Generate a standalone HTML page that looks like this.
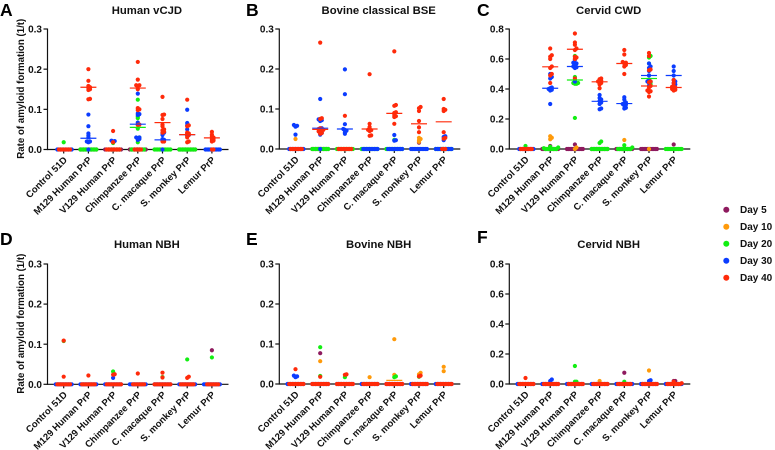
<!DOCTYPE html>
<html lang="en">
<head>
<meta charset="utf-8">
<title>Rate of amyloid formation</title>
<style>
html,body{margin:0;padding:0;background:#fff;width:775px;height:450px;overflow:hidden}
svg{display:block;font-family:"Liberation Sans",Arial,sans-serif;font-weight:bold;fill:#111}
</style>
</head>
<body>
<svg id="figure" width="775" height="450" viewBox="0 0 775 450" xmlns="http://www.w3.org/2000/svg"></svg>
<script>
const categories = ["Control 51D","M129 Human PrP","V129 Human PrP","Chimpanzee PrP","C. macaque PrP","S. monkey PrP","Lemur PrP"];
const dayLabels = ["Day 5","Day 10","Day 20","Day 30","Day 40"];
const dayColors = ["#8e1a5e","#ff9a0a","#12ee12","#0b3cff","#ff2a0a"];
const ticksLow = [0,0.1,0.2,0.3];
const ticksHigh = [0,0.2,0.4,0.6,0.8];
const none = [[],[],[],[],[],[],[]];
const noZeros = [0,0,0,0,0,0,0];
const noMean = [null,null,null,null,null,null,null];

/* Panel A: Human vCJD */
const A_day5 = none;
const A_day10 = none;
const A_day20 = [[.018],[],[.016],[.124,.082,.078,.052,.03,.028,.018],[],[],[]];
const A_day30 = [[],[.087,.058,.04,.035,.03,.02,.018,.02],[.022,.021,.02],[.139,.09,.088,.086,.067,.063,.03,.03,.028,.026,.024],[.042,.04,.036,.026,.024,.022],[.099,.066,.06,.05,.04,.036,.035],[]];
const A_day40 = [[],[.2,.171,.158,.155,.153,.15,.148,.126,.125],[.046,.018],[.218,.174,.16,.16,.158,.15,.103,.1,.098,.062,.061],[.131,.087,.086,.076,.062,.058,.05,.048,.044,.042,.02,.02],[.124,.06,.058,.042,.04,.038,.036,.034,.03,.02,.018],[.044,.037,.033,.03,.028,.026,.024,.022,.02]];
const A_zeros_day5 = [0,11,11,11,0,11,0];
const A_zeros_day10 = [0,0,0,1,0,0,0];
const A_zeros_day20 = [0,11,8,9,11,11,0];
const A_zeros_day30 = [10,1,1,1,1,0,10];
const A_zeros_day40 = [8,0,9,5,0,0,2];
const A_mean_day20 = [null,null,null,.055,null,null,null];
const A_mean_day30 = [null,.028,null,.063,.024,.037,null];
const A_mean_day40 = [null,.155,null,.153,.067,.037,.029];

/* Panel B: Bovine classical BSE */
const B_day5 = [[],[],[],[],[],[.016],[]];
const B_day10 = [[.025],[],[],[],[],[.028,.025,.022,.018],[]];
const B_day20 = [[],[.075],[],[],[.023],[],[]];
const B_day30 = [[.06,.058,.056,.036],[.125,.074,.072,.07,.052,.05,.045,.04,.036],[.199,.137,.062,.05,.048,.046,.042,.038],[],[.035,.022,.021],[],[.032,.03,.022]];
const B_day40 = [[],[.266,.077,.075,.052,.05,.05,.048,.047,.045,.044,.042,.04,.038],[.083],[.187,.063,.055,.05,.048,.047,.045,.034,.033],[.244,.11,.108,.092,.09,.085,.082,.08,.063],[.105,.102,.095,.07,.054,.042],[.125,.1,.098,.095,.042,.028,.026]];
const B_zeros_day5 = [0,11,0,0,0,0,0];
const B_zeros_day10 = noZeros;
const B_zeros_day20 = [0,11,11,11,11,0,11];
const B_zeros_day30 = [10,1,0,10,10,11,11];
const B_zeros_day40 = [8,0,9,0,0,0,3];
const B_mean_day30 = [null,.052,.05,null,null,null,null];
const B_mean_day40 = [null,.049,null,.05,.089,.063,.068];

/* Panel C: Cervid CWD */
const C_day5 = [[],[.02],[.03],[],[],[],[.03]];
const C_day10 = [[],[.085,.075,.065,.01],[.01],[],[.06],[],[]];
const C_day20 = [[.02],[.015,.01,.005],[.62,.57,.48,.46,.44,.44,.435,.435,.207],[.05,.04],[.025,.01],[.62,.61,.57,.49,.445,.44,.43,.42],[]];
const C_day30 = [[],[.5,.48,.47,.41,.405,.4,.395,.39,.3],[.595,.575,.57,.57,.55,.545,.54,.45],[.36,.34,.33,.32,.31,.3,.27,.265],[.345,.33,.31,.305,.3,.295,.29,.275,.27],[.57,.55,.54,.52,.49,.46,.45,.45,.44,.42],[.55,.52,.49,.46,.45,.44,.43,.42]];
const C_day40 = [[],[.67,.625,.615,.6,.55,.54,.5,.49,.44],[.77,.71,.695,.67,.66,.615,.61,.6,.47],[.47,.465,.455,.45,.445,.44,.43,.405],[.66,.63,.58,.575,.57,.56,.55,.5],[.64,.62,.53,.525,.45,.445,.42,.41,.39,.385,.38,.35],[.46,.44,.42,.415,.41,.405,.4,.395,.39]];
const C_zeros_day5 = [0,11,11,11,11,11,0];
const C_zeros_day10 = [0,0,1,0,0,1,0];
const C_zeros_day20 = [0,8,0,11,9,0,11];
const C_zeros_day30 = [10,0,0,0,0,0,0];
const C_zeros_day40 = [8,0,0,0,0,0,0];
const C_mean_day20 = [null,null,.46,null,null,.47,null];
const C_mean_day30 = [null,.405,.55,.318,.303,.49,.49];
const C_mean_day40 = [null,.548,.665,.448,.57,.42,.41];

/* Panel D: Human NBH */
const D_day5 = [[],[],[],[],[],[],[.085]];
const D_day10 = none;
const D_day20 = [[.108],[],[.032],[],[.018],[.062],[.067]];
const D_day30 = [[],[],[.016],[],[],[],[]];
const D_day40 = [[.109,.019],[.022],[.025,.024],[.027],[.029,.017],[.019,.016],[]];
const D_zeros_day30 = [11,11,11,11,11,11,11];
const D_zeros_day40 = [9,9,10,8,11,9,8];

/* Panel E: Bovine NBH */
const E_day5 = [[],[.077],[],[],[],[],[]];
const E_day10 = [[],[.057],[],[.017],[.112,.023],[.028,.024],[.043,.032]];
const E_day20 = [[],[.092,.02],[.017],[],[.019,.017],[.018],[]];
const E_day30 = [[.021,.019,.017],[],[],[],[],[],[]];
const E_day40 = [[.037],[.018],[.024,.023],[],[],[.021,.019],[]];
const E_zeros_day30 = [11,11,11,11,11,11,11];
const E_zeros_day40 = [10,11,11,10,11,10,10];
const E_mean_day10 = [null,null,null,null,.009,null,null];

/* Panel F: Cervid NBH */
const F_day5 = [[],[],[],[],[.075],[],[.02,.02]];
const F_day10 = [[],[],[],[.02],[],[.09],[]];
const F_day20 = [[],[],[.12,.015,.015],[],[.015],[],[]];
const F_day30 = [[],[.03,.02],[],[],[],[.025,.02],[]];
const F_day40 = [[.04],[],[],[],[],[],[.015,.005]];
const F_zeros_day30 = [11,11,11,11,11,11,11];
const F_zeros_day40 = [10,10,10,10,9,10,9];

const panels = [
  {id:"a",letter:"A",title:"Human vCJD",left:47.5,top:29,bottom:149.5,ticks:ticksLow,ylabel:true,lx:0,ly:16,
   values:[A_day5,A_day10,A_day20,A_day30,A_day40],
   zeros:[A_zeros_day5,A_zeros_day10,A_zeros_day20,A_zeros_day30,A_zeros_day40],
   means:[noMean,noMean,A_mean_day20,A_mean_day30,A_mean_day40]},
  {id:"b",letter:"B",title:"Bovine classical BSE",left:279.3,top:29,bottom:149,ticks:ticksLow,ylabel:false,lx:246,ly:16,
   values:[B_day5,B_day10,B_day20,B_day30,B_day40],
   zeros:[B_zeros_day5,B_zeros_day10,B_zeros_day20,B_zeros_day30,B_zeros_day40],
   means:[noMean,noMean,noMean,B_mean_day30,B_mean_day40]},
  {id:"c",letter:"C",title:"Cervid CWD",left:509.3,top:29,bottom:149,ticks:ticksHigh,ylabel:false,lx:477,ly:16,
   values:[C_day5,C_day10,C_day20,C_day30,C_day40],
   zeros:[C_zeros_day5,C_zeros_day10,C_zeros_day20,C_zeros_day30,C_zeros_day40],
   means:[noMean,noMean,C_mean_day20,C_mean_day30,C_mean_day40]},
  {id:"d",letter:"D",title:"Human NBH",left:47.5,top:264,bottom:384.3,ticks:ticksLow,ylabel:true,lx:0,ly:245,
   values:[D_day5,D_day10,D_day20,D_day30,D_day40],
   zeros:[noZeros,noZeros,noZeros,D_zeros_day30,D_zeros_day40],
   means:[noMean,noMean,noMean,noMean,noMean]},
  {id:"e",letter:"E",title:"Bovine NBH",left:279.3,top:264,bottom:384,ticks:ticksLow,ylabel:false,lx:246,ly:245,
   values:[E_day5,E_day10,E_day20,E_day30,E_day40],
   zeros:[noZeros,noZeros,noZeros,E_zeros_day30,E_zeros_day40],
   means:[noMean,E_mean_day10,noMean,noMean,noMean]},
  {id:"f",letter:"F",title:"Cervid NBH",left:509.3,top:264,bottom:384,ticks:ticksHigh,ylabel:false,lx:477,ly:243,
   values:[F_day5,F_day10,F_day20,F_day30,F_day40],
   zeros:[noZeros,noZeros,noZeros,F_zeros_day30,F_zeros_day40],
   means:[noMean,noMean,noMean,noMean,noMean]}
];

const NS = "http://www.w3.org/2000/svg";
const svg = document.getElementById("figure");
const CAT_FIRST = 16.2, CAT_STEP = 24.7, AXIS_LEN = 181, SWARM_STEP = 1.6, SWARM_DY = 1.6, DOT_R = 2.1;

function make(tag, parent, props, text) {
  const el = document.createElementNS(NS, tag);
  for (const k in props) el.setAttribute(k, props[k]);
  if (text !== undefined) el.textContent = text;
  parent.appendChild(el);
  return el;
}

/* Place one series' points by stepping sideways until they no longer overlap. */
function swarm(pixelYs) {
  const placed = [];
  pixelYs.slice().sort((a, b) => b - a).forEach(y => {
    for (let i = 0; i < 40; i++) {
      const off = (i % 2 ? 1 : -1) * Math.ceil(i / 2) * SWARM_STEP;
      if (!placed.some(p => Math.abs(p.y - y) < SWARM_DY && Math.abs(p.off - off) < SWARM_STEP * 0.9)) {
        placed.push({y: y, off: off});
        break;
      }
    }
  });
  return placed;
}

panels.forEach(panel => {
  const maxY = panel.ticks[panel.ticks.length - 1];
  const yScale = v => panel.bottom - (v / maxY) * (panel.bottom - panel.top);
  const xScale = i => panel.left + CAT_FIRST + i * CAT_STEP;
  const g = make("g", svg, {});
  
  

  const letter = make("text", g, {x: panel.lx, y: panel.ly, "font-size": 17.5, fill: "#000"}, panel.letter);
  
  

  const title = make("text", g, {x: panel.left + 99.4, y: panel.ly === 16 ? 14 : 248, "font-size": 11.3, "text-anchor": "middle"}, panel.title);
  
  

  if (panel.ylabel) {
    const cy = (panel.top + panel.bottom) / 2 - 0.5;
    const yt = make("text", g, {x: 24, y: cy, "font-size": 9.7, "text-anchor": "middle", transform: "rotate(-90 24 " + cy + ")"}, "Rate of amyloid formation (1/t)");
    
    
  }

  const axes = make("g", g, {stroke: "#111", "stroke-width": 1.2, fill: "none"});
  
  
  make("line", axes, {x1: panel.left, x2: panel.left, y1: panel.top - 0.5, y2: panel.bottom + 0.6});
  make("line", axes, {x1: panel.left, x2: panel.left + AXIS_LEN, y1: panel.bottom, y2: panel.bottom});

  panel.ticks.forEach(t => {
    const y = yScale(t);
    make("line", axes, {x1: panel.left - 4, x2: panel.left, y1: y, y2: y});
    const lab = make("text", g, {x: panel.left - 5.5, y: y + 3.6, "font-size": 10, "text-anchor": "end"}, t.toFixed(1));
    
    
  });

  categories.forEach((c, i) => {
    const x = xScale(i);
    make("line", axes, {x1: x, x2: x, y1: panel.bottom, y2: panel.bottom + 4});
    const tx = x + 4, ty = panel.bottom + 11;
    const lab = make("text", g, {x: tx, y: ty, "font-size": 9.5, "text-anchor": "end", transform: "rotate(-45 " + tx + " " + ty + ")"}, c);
    
    
  });

  const dots = make("g", g, {});
  
  
  dayLabels.forEach((d, di) => {
    categories.forEach((c, ci) => {
      const ys = panel.values[di][ci].map(yScale);
      for (let z = 0; z < panel.zeros[di][ci]; z++) ys.push(yScale(0));
      swarm(ys).forEach(p => {
        const dot = make("circle", dots, {cx: xScale(ci) + p.off, cy: p.y, r: DOT_R, fill: dayColors[di]});
        
        
      });
    });
  });

  dayLabels.forEach((d, di) => {
    panel.means[di].forEach((m, ci) => {
      if (m === null) return;
      const line = make("line", g, {x1: xScale(ci) - 8, x2: xScale(ci) + 8, y1: yScale(m), y2: yScale(m), stroke: dayColors[di], "stroke-width": 1.2});
      
      
    });
  });
});

const legend = make("g", svg, {});


dayLabels.forEach((d, i) => {
  const y = 209.7 + i * 17;
  const entry = make("g", legend, {});
  
  
  make("circle", entry, {cx: 726.3, cy: y, r: 3, fill: dayColors[i]});
  make("text", entry, {x: 740, y: y + 3.5, "font-size": 10}, d);
});
</script>
</body>
</html>
